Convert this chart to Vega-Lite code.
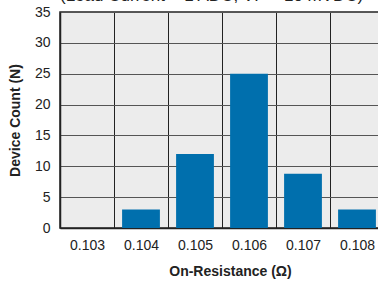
{
  "$schema": "https://vega.github.io/schema/vega-lite/v6.json",
  "autosize": "none",
  "width": 324,
  "height": 216,
  "padding": {"left": 60, "top": 12, "right": -6, "bottom": 53},
  "background": "white",
  "title": {
    "text": "(Load Current = 1 ADC, VF = 10 mVDC)",
    "anchor": "start",
    "frame": "group",
    "baseline": "alphabetic",
    "offset": -13,
    "font": "Liberation Sans",
    "fontSize": 17,
    "fontWeight": "normal",
    "color": "#222"
  },
  "data": {
    "values": [
      {"resistance": "0.103", "count": 0},
      {"resistance": "0.104", "count": 3},
      {"resistance": "0.105", "count": 12},
      {"resistance": "0.106", "count": 25},
      {"resistance": "0.107", "count": 8.8},
      {"resistance": "0.108", "count": 3}
    ]
  },
  "mark": {"type": "bar", "color": "#006fad", "width": {"band": 0.7}},
  "encoding": {
    "x": {
      "field": "resistance",
      "type": "ordinal",
      "sort": null,
      "scale": {"paddingInner": 0, "paddingOuter": 0},
      "axis": {
        "title": "On-Resistance (Ω)",
        "titleX": 170,
        "titleFont": "Liberation Sans",
        "titleFontSize": 14,
        "titleFontWeight": "bold",
        "titleColor": "#222",
        "titlePadding": 12,
        "labelAngle": 0,
        "labelFont": "Liberation Sans",
        "labelFontSize": 14,
        "labelColor": "#222",
        "labelPadding": 10,
        "ticks": false,
        "tickBand": "extent",
        "grid": true,
        "gridColor": "#222",
        "gridWidth": 1,
        "domainColor": "#222",
        "domainWidth": 1.5
      }
    },
    "y": {
      "field": "count",
      "type": "quantitative",
      "scale": {"domain": [0, 35], "nice": false},
      "axis": {
        "title": "Device Count (N)",
        "values": [0, 5, 10, 15, 20, 25, 30, 35],
        "titleFont": "Liberation Sans",
        "titleFontSize": 14,
        "titleFontWeight": "bold",
        "titleColor": "#222",
        "titlePadding": 12,
        "labelFont": "Liberation Sans",
        "labelFontSize": 14,
        "labelColor": "#222",
        "labelPadding": 10,
        "ticks": false,
        "grid": true,
        "gridColor": "#555",
        "gridWidth": 1.2,
        "domainColor": "#222",
        "domainWidth": 1.5
      }
    }
  },
  "config": {
    "view": {"fill": "#ececec", "stroke": "#222", "strokeWidth": 1.5}
  }
}
